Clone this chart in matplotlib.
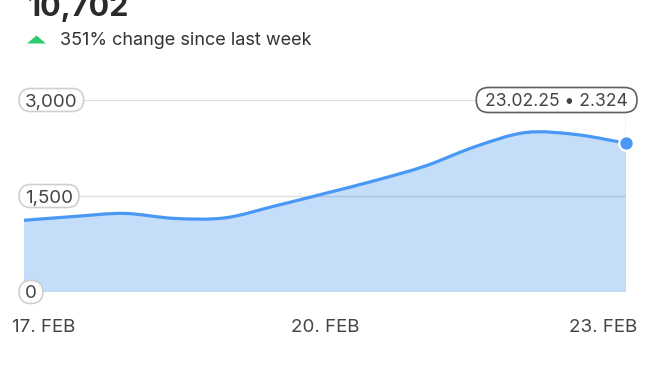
import matplotlib
matplotlib.use("Agg")
import matplotlib.pyplot as plt
from matplotlib.path import Path
from matplotlib.patches import PathPatch, FancyBboxPatch, Polygon
from matplotlib.transforms import IdentityTransform

plt.rcParams["font.family"] = ["Inter", "DejaVu Sans"]

# Data (half-day steps, 17 Feb .. 23 Feb)
days = [0, 0.5, 1, 1.5, 2, 2.5, 3, 3.5, 4, 4.5, 5, 5.5, 6]
values = [1120, 1180, 1228, 1150, 1158, 1344, 1540, 1742, 1969, 2273, 2492, 2461, 2324]
tick_days = [0, 3, 6]
tick_labels = ["17. FEB", "20. FEB", "23. FEB"]
y_ticks = [0, 1500, 3000]
total = "10,702"
change_text = "351% change since last week"
last_date = "23.02.25"

LINE = "#4a98f5"
FILL = "#c4defa"
TXT = "#444444"

fig = plt.figure(figsize=(6.5, 3.85), dpi=100)
ax = fig.add_axes([24 / 650, 93 / 385, 602 / 650, 192 / 385])
ax.set_xlim(0, 6)
ax.set_ylim(0, 3000)
ax.axis("off")

# smooth curve (catmull-rom -> cubic bezier)
pts = list(zip(days, values))
verts = [pts[0]]
codes = [Path.MOVETO]
for i in range(len(pts) - 1):
    p0 = pts[max(i - 1, 0)]
    p1 = pts[i]
    p2 = pts[i + 1]
    p3 = pts[min(i + 2, len(pts) - 1)]
    c1 = (p1[0] + (p2[0] - p0[0]) / 6, p1[1] + (p2[1] - p0[1]) / 6)
    c2 = (p2[0] - (p3[0] - p1[0]) / 6, p2[1] - (p3[1] - p1[1]) / 6)
    verts += [c1, c2, p2]
    codes += [Path.CURVE4] * 3

fill_path = Path(verts + [(days[-1], 0), (days[0], 0), (days[0], 0)],
                 codes + [Path.LINETO, Path.LINETO, Path.CLOSEPOLY])
ax.add_patch(PathPatch(fill_path, facecolor=FILL, edgecolor="none", zorder=1))
ax.add_patch(PathPatch(Path(verts, codes), facecolor="none", edgecolor=LINE,
                       lw=2.3, capstyle="round", zorder=3))

# grid lines
for yt in y_ticks:
    ax.axhline(yt, color=(0, 0, 0, 0.12), lw=1, zorder=2)

# hover line + end marker
ax.axvline(days[-1], color="#9cc6f7", lw=1, zorder=2)
ax.plot(days[-1], values[-1], "o", ms=10.5, color=LINE, mec="white", mew=1.6,
        zorder=5, clip_on=False)

# y labels (boxes added after measuring)
boxed = []
for yt in y_ticks:
    t = ax.text(0.01, yt, f"{yt:,}", ha="left", va="center_baseline", fontsize=13.5,
                color=TXT, zorder=7, clip_on=False)
    boxed.append((t, yt, 6, 23, "#cfcfcf"))

# tooltip
tip = ax.annotate(f"{last_date} \u2022 {values[-1]:,}".replace(",", "."),
                  xy=(days[-1], 3000), xytext=(2, 0), textcoords="offset pixels",
                  ha="right", va="center_baseline", fontsize=12.6, color=TXT, zorder=7,
                  annotation_clip=False)
boxed.append((tip, 3000, 9, 25, "#606060"))

# x labels
offsets = [-12, 0, 11]
aligns = ["left", "center", "right"]
for d, lab, dx, ha in zip(tick_days, tick_labels, offsets, aligns):
    ax.annotate(lab, xy=(d, 0), xytext=(dx, -33), textcoords="offset pixels",
                ha=ha, va="center_baseline", fontsize=13.5, color=TXT,
                annotation_clip=False)

# header
fig.text(28 / 650, 1 - 16 / 385, total, ha="left", va="baseline", fontsize=22,
         fontweight="bold", color="#2a2a2a")
fig.text(60 / 650, 1 - 45 / 385, change_text, ha="left", va="baseline",
         fontsize=13, color="#333333")
fig.add_artist(Polygon([(27 / 650, 1 - 43.5 / 385), (46 / 650, 1 - 43.5 / 385),
                        (36.5 / 650, 1 - 35.5 / 385)], closed=True,
                       transform=fig.transFigure, color="#2ecc71", lw=0))

# rounded boxes behind labels
fig.canvas.draw()
renderer = fig.canvas.get_renderer()
for t, yv, padx, h, ec in boxed:
    bb = t.get_window_extent(renderer)
    cy = ax.transData.transform((0, yv))[1]
    box = FancyBboxPatch((bb.x0 - padx, cy - h / 2), bb.width + 2 * padx, h,
                         boxstyle=f"round,pad=0,rounding_size={h / 2}",
                         transform=IdentityTransform(), facecolor="white",
                         edgecolor=ec, lw=1.2, zorder=6, clip_on=False)
    ax.add_artist(box)

fig.savefig("out.png", dpi=100)
